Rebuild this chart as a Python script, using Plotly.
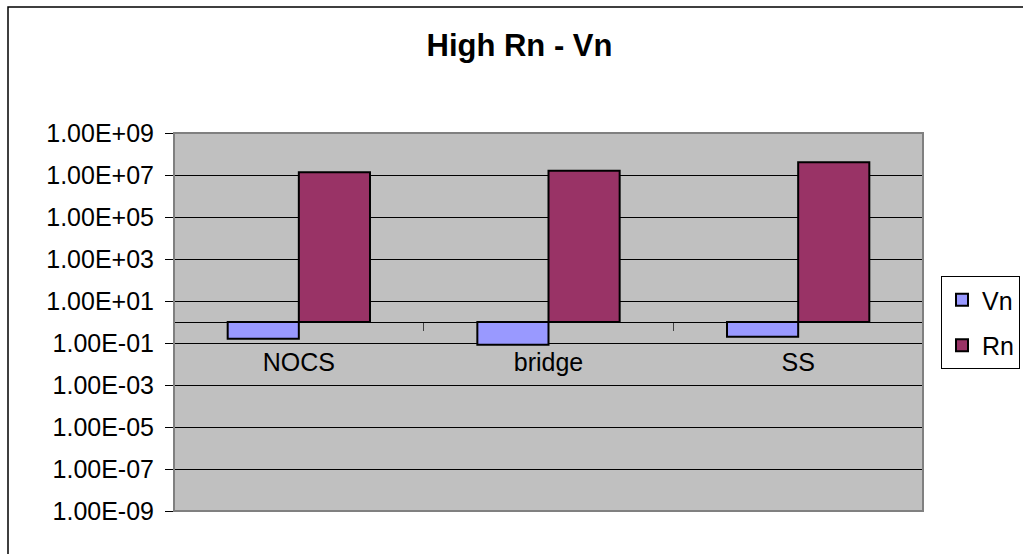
import plotly.graph_objects as go

# Data
categories = ["NOCS", "bridge", "SS"]
vn_values = [0.16, 0.083, 0.2]
rn_values = [1.35e7, 1.6e7, 4.0e7]
tick_values = [1e-9, 1e-7, 1e-5, 1e-3, 1e-1, 1e1, 1e3, 1e5, 1e7, 1e9]
tick_labels = ["1.00E-09", "1.00E-07", "1.00E-05", "1.00E-03", "1.00E-01",
               "1.00E+01", "1.00E+03", "1.00E+05", "1.00E+07", "1.00E+09"]

# Bars grow from the value axis crossing at 1
BASE = 1.0
FONT = "Liberation Sans, Arial, sans-serif"

fig = go.Figure()
fig.add_trace(go.Bar(
    name="Vn", x=categories, y=[v - BASE for v in vn_values], base=BASE,
    marker=dict(color="#9999FF", line=dict(color="black", width=2)),
    legendgroup="vn",
))
fig.add_trace(go.Bar(
    name="Rn", x=categories, y=[v - BASE for v in rn_values], base=BASE,
    marker=dict(color="#993366", line=dict(color="black", width=2)),
    legendgroup="rn",
))

W, H = 1023, 554
ml, mr, mt, mb = 174, 100, 133, 43
pw, ph = W - ml - mr, H - mt - mb

def px_to_paper_x(px):
    return (px - ml) / pw

def px_to_paper_y(py):
    return (H - mb - py) / ph

fig.update_layout(
    width=W, height=H,
    margin=dict(l=ml, r=mr, t=mt, b=mb, autoexpand=False),
    paper_bgcolor="white",
    plot_bgcolor="#C0C0C0",
    font=dict(family=FONT, size=25, color="black"),
    barmode="group",
    bargap=0.43,
    bargroupgap=0.0,
    title=dict(
        text="<b>High Rn - Vn</b>",
        font=dict(family=FONT, size=31, color="black"),
        xref="container", x=519.5 / W, xanchor="center",
        yref="container", y=1 - 45 / H, yanchor="middle",
    ),
    legend=dict(
        x=px_to_paper_x(1020), xanchor="right",
        y=px_to_paper_y(276), yanchor="top",
        bgcolor="white", bordercolor="black", borderwidth=1,
        font=dict(family=FONT, size=25),
        tracegroupgap=10,
        itemwidth=30,
    ),
    showlegend=True,
)

fig.update_yaxes(
    type="log", range=[-9, 9],
    tickvals=tick_values, ticktext=tick_labels,
    ticks="outside", ticklen=8, tickcolor="black", tickwidth=1,
    ticklabelstandoff=6,
    showgrid=True, gridcolor="black", gridwidth=1,
    showline=False, zeroline=False,
    tickfont=dict(family=FONT, size=25, color="black"),
)

fig.update_xaxes(
    type="category",
    anchor="free", position=0.5,
    showline=True, linecolor="black", linewidth=1,
    ticks="outside", tickson="boundaries", ticklen=8,
    tickcolor="#404040", tickwidth=1,
    ticklabelstandoff=18,
    showgrid=False, zeroline=False,
    tickfont=dict(family=FONT, size=25, color="black"),
)

# Plot-area frame and outer chart frame
fig.add_shape(type="rect", xref="paper", yref="paper", x0=0, x1=1, y0=0, y1=1,
              line=dict(color="#808080", width=2), layer="above")
fig.add_shape(type="rect", xref="paper", yref="paper",
              x0=px_to_paper_x(8), x1=px_to_paper_x(1040),
              y0=px_to_paper_y(580), y1=px_to_paper_y(7),
              line=dict(color="black", width=1.5), layer="below")

fig.write_html("out.html")
